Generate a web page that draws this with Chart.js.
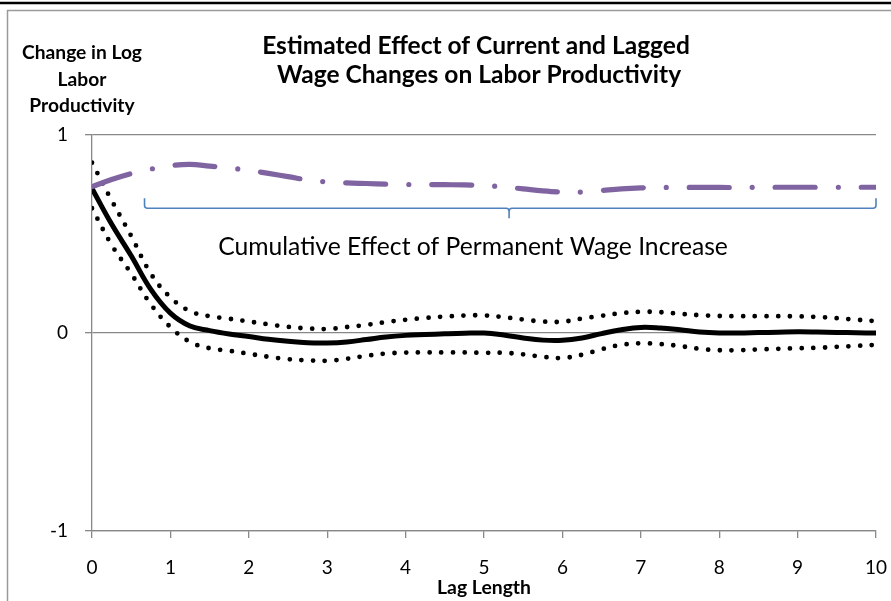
<!DOCTYPE html>
<html>
<head>
<meta charset="utf-8">
<script src="https://cdn.jsdelivr.net/npm/chart.js@4"></script>
<style>
  html, body { margin: 0; padding: 0; background: #fff; }
  #wrap { width: 891px; height: 601px; position: relative; }
</style>
</head>
<body>
<div id="wrap"><canvas id="c"></canvas></div>
<script>
// ---- Data ----
const lags = [0, 0.25, 0.5, 0.75, 1, 1.25, 1.5, 1.75, 2, 2.25, 2.5, 2.75, 3, 3.25, 3.5, 3.75, 4, 4.25, 4.5, 4.75, 5,
              5.25, 5.5, 5.75, 6, 6.25, 6.5, 6.75, 7, 7.25, 7.5, 7.75, 8, 8.25, 8.5, 8.75, 9, 9.25, 9.5, 9.75, 10];

const effect = [0.73, 0.55, 0.39, 0.22, 0.10, 0.035, 0.012, -0.005, -0.018, -0.032, -0.042, -0.049, -0.05, -0.045, -0.033, -0.02, -0.012, -0.008, -0.004, -0.001, 0.0,
                -0.01, -0.025, -0.036, -0.037, -0.025, -0.003, 0.016, 0.028, 0.025, 0.016, 0.005, 0.0, 0.0, 0.002, 0.004, 0.006, 0.005, 0.003, 0.001, 0.0];

const upperBand = [0.86, 0.67, 0.49, 0.30, 0.18, 0.11, 0.085, 0.072, 0.058, 0.044, 0.031, 0.023, 0.02, 0.03, 0.041, 0.055, 0.067, 0.076, 0.083, 0.088, 0.089,
                   0.08, 0.068, 0.058, 0.057, 0.073, 0.087, 0.10, 0.107, 0.105, 0.097, 0.09, 0.086, 0.085, 0.085, 0.085, 0.084, 0.081, 0.075, 0.067, 0.06];

const lowerBand = [0.63, 0.445, 0.30, 0.145, 0.03, -0.045, -0.077, -0.09, -0.105, -0.12, -0.132, -0.138, -0.14, -0.13, -0.115, -0.104, -0.099, -0.098, -0.098, -0.098, -0.10,
                   -0.10, -0.108, -0.12, -0.126, -0.11, -0.082, -0.06, -0.052, -0.056, -0.066, -0.08, -0.087, -0.087, -0.083, -0.08, -0.077, -0.075, -0.07, -0.065, -0.06];

const cumulative = [0.739, 0.775, 0.805, 0.828, 0.845, 0.852, 0.843, 0.833, 0.822, 0.806, 0.79, 0.773, 0.763, 0.758, 0.755, 0.752, 0.75, 0.75, 0.749, 0.748, 0.745,
                    0.738, 0.728, 0.718, 0.712, 0.712, 0.72, 0.728, 0.733, 0.735, 0.735, 0.735, 0.735, 0.735, 0.736, 0.736, 0.736, 0.736, 0.736, 0.736, 0.736];

const xTicks = [0, 1, 2, 3, 4, 5, 6, 7, 8, 9, 10];
const yTicks = [-1, 0, 1];

const titleLines = ['Estimated Effect of Current and Lagged', 'Wage Changes on Labor Productivity'];
const yTitleLines = ['Change in Log', 'Labor', 'Productivity'];
const xTitle = 'Lag Length';
const annotationText = 'Cumulative Effect of Permanent Wage Increase';

// bracket annotation expressed in data units
const bracket = { x0: 0.67, xMid: 5.32, x1: 10, y: 0.63 };
const annotationAt = { x: 4.86, y: 0.395 };

const pts = arr => lags.map((x, i) => ({ x: x, y: arr[i] }));

const FAMILY = 'Lato, "Open Sans", sans-serif';

function fitSize(ctx, text, weight, targetW) {
  ctx.font = weight + ' 100px ' + FAMILY;
  return 100 * targetW / ctx.measureText(text).width;
}

const decor = {
  id: 'decor',
  beforeDraw(chart) {
    const ctx = chart.ctx;
    ctx.save();
    ctx.strokeStyle = '#9a9a9a';
    ctx.lineWidth = 1.5;
    ctx.beginPath();
    ctx.moveTo(7.5, 700);
    ctx.lineTo(7.5, 10.5);
    ctx.lineTo(900, 10.5);
    ctx.stroke();
    ctx.strokeStyle = '#000';
    ctx.lineWidth = 2.5;
    ctx.beginPath();
    ctx.moveTo(0, 3);
    ctx.lineTo(891, 3);
    ctx.stroke();
    ctx.restore();
  },
  afterDraw(chart) {
    const ctx = chart.ctx;
    const xs = chart.scales.x, ys = chart.scales.y;
    ctx.save();
    ctx.fillStyle = '#000';
    ctx.textAlign = 'center';
    ctx.textBaseline = 'alphabetic';
    let s = fitSize(ctx, titleLines[0], 'bold', 428);
    ctx.font = 'bold ' + s + 'px ' + FAMILY;
    ctx.fillText(titleLines[0], 476, 54);
    ctx.fillText(titleLines[1], 479, 83);
    s = fitSize(ctx, yTitleLines[0], 'bold', 120);
    ctx.font = 'bold ' + s + 'px ' + FAMILY;
    ctx.fillText(yTitleLines[0], 82, 59);
    ctx.fillText(yTitleLines[1], 82, 86);
    ctx.fillText(yTitleLines[2], 82, 112);
    s = fitSize(ctx, xTitle, 'bold', 94);
    ctx.font = 'bold ' + s + 'px ' + FAMILY;
    ctx.fillText(xTitle, (xs.left + xs.right) / 2, 594);
    s = fitSize(ctx, annotationText, 'normal', 510);
    ctx.font = 'normal ' + s + 'px ' + FAMILY;
    ctx.fillText(annotationText, xs.getPixelForValue(annotationAt.x), ys.getPixelForValue(annotationAt.y));
    const bx0 = xs.getPixelForValue(bracket.x0);
    const bxm = xs.getPixelForValue(bracket.xMid);
    const bx1 = xs.getPixelForValue(bracket.x1);
    const by = ys.getPixelForValue(bracket.y);
    const h = 10, r = 3;
    ctx.strokeStyle = '#4f81bd';
    ctx.lineWidth = 1.6;
    ctx.lineJoin = 'round';
    ctx.beginPath();
    ctx.moveTo(bx0, by - h);
    ctx.lineTo(bx0, by - r);
    ctx.quadraticCurveTo(bx0, by, bx0 + r, by);
    ctx.lineTo(bxm - r, by);
    ctx.quadraticCurveTo(bxm, by, bxm, by + r);
    ctx.lineTo(bxm, by + h);
    ctx.moveTo(bxm, by + r);
    ctx.quadraticCurveTo(bxm, by, bxm + r, by);
    ctx.lineTo(bx1 - r, by);
    ctx.quadraticCurveTo(bx1, by, bx1, by - r);
    ctx.lineTo(bx1, by - h);
    ctx.stroke();
    ctx.restore();
  }
};

new Chart(document.getElementById('c'), {
  type: 'line',
  data: {
    datasets: [
      {
        label: 'Cumulative effect',
        data: pts(cumulative),
        borderColor: '#8064a2',
        borderWidth: 5.2,
        borderDash: [40, 23, 0, 23],
        borderCapStyle: 'round',
        pointRadius: 0,
        tension: 0.4,
        fill: false
      },
      {
        label: 'Effect',
        data: pts(effect),
        borderColor: '#000',
        borderWidth: 5,
        pointRadius: 0,
        tension: 0.4,
        fill: false
      },
      {
        label: 'Upper',
        data: pts(upperBand),
        borderColor: '#000',
        borderWidth: 4.8,
        borderDash: [0, 11.7],
        borderCapStyle: 'round',
        pointRadius: 0,
        tension: 0.4,
        fill: false
      },
      {
        label: 'Lower',
        data: pts(lowerBand),
        borderColor: '#000',
        borderWidth: 4.8,
        borderDash: [0, 11.7],
        borderCapStyle: 'round',
        pointRadius: 0,
        tension: 0.4,
        fill: false
      }
    ]
  },
  options: {
    responsive: true,
    maintainAspectRatio: false,
    animation: false,
    events: [],
    layout: { padding: { top: 135, right: 0, bottom: 0, left: 0 } },
    plugins: { legend: { display: false }, title: { display: false }, tooltip: { enabled: false } },
    scales: {
      x: {
        type: 'linear',
        min: 0, max: 10,
        afterFit: s => { s.height = 70; s.paddingRight = 15; },
        afterBuildTicks: s => { s.ticks = xTicks.map(v => ({ value: v })); },
        ticks: { color: '#000', font: { family: FAMILY, size: 19 }, padding: 18, maxRotation: 0, autoSkip: false },
        grid: { drawOnChartArea: false, drawTicks: true, tickLength: 7, color: '#888', lineWidth: 1.3 },
        border: { color: '#888', width: 1.3 }
      },
      y: {
        type: 'linear',
        min: -1, max: 1,
        afterFit: s => { s.width = 92; },
        afterBuildTicks: s => { s.ticks = yTicks.map(v => ({ value: v })); },
        ticks: { color: '#000', font: { family: FAMILY, size: 19 }, padding: 17 },
        grid: { drawOnChartArea: true, drawTicks: true, tickLength: 7, color: '#888', lineWidth: 1.3 },
        border: { color: '#888', width: 1.3 }
      }
    }
  },
  plugins: [decor]
});
</script>
</body>
</html>
